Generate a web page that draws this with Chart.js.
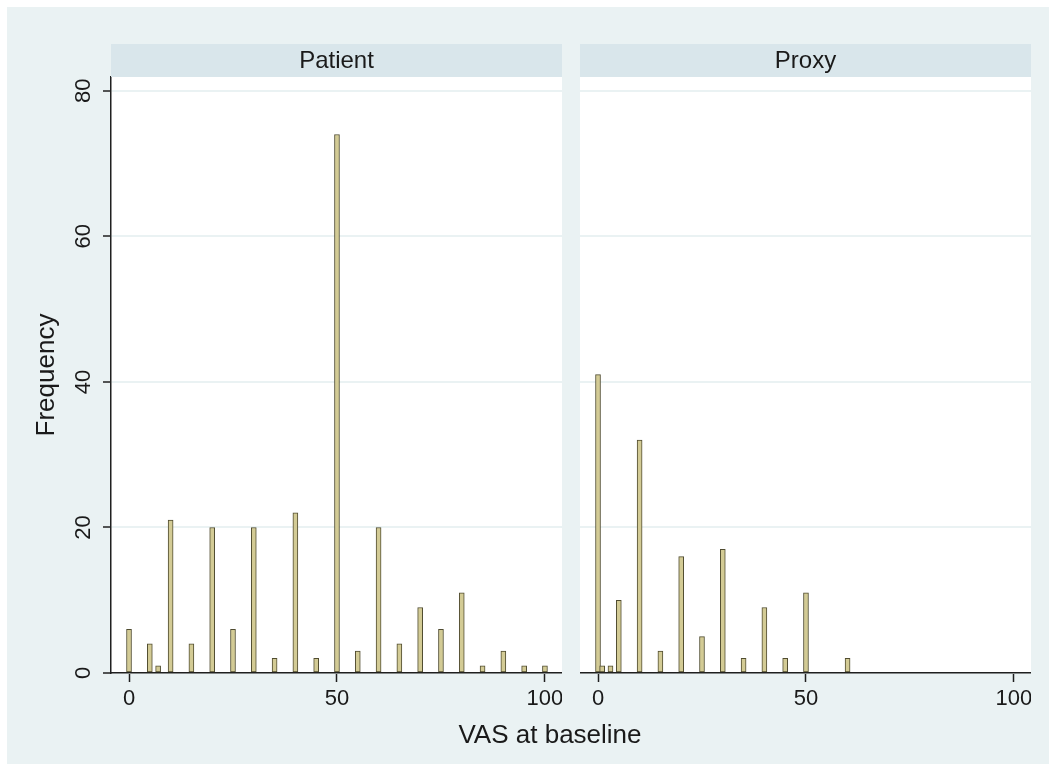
<!DOCTYPE html>
<html>
<head>
<meta charset="utf-8">
<title>VAS at baseline</title>
<script src="https://cdn.jsdelivr.net/npm/chart.js@4.4.1/dist/chart.umd.min.js"></script>
<style>
  html, body { margin: 0; padding: 0; background: #fff; }
  #frame {
    position: absolute; left: 7px; top: 7px; width: 1042px; height: 757px;
    background: #eaf2f3; font-family: 'Liberation Sans', Arial, sans-serif;
  }
  #frame canvas { position: absolute; top: 0; }
  #patientChart { left: 0; }
  #proxyChart { left: 573px; }
  #xTitle {
    position: absolute; left: 0; width: 1086px; top: 714px;
    text-align: center; font-size: 26px; line-height: 26px; color: #1a1a1a;
  }
</style>
</head>
<body>
<div id="frame">
  <canvas id="patientChart" width="555" height="720"></canvas>
  <canvas id="proxyChart" width="451" height="720"></canvas>
  <div id="xTitle">VAS at baseline</div>
</div>
<script>
// tick labels
const xTicks = [0, 50, 100];
const yTicks = [0, 20, 40, 60, 80];

// Patient panel: VAS score -> frequency
const patientScores = [0, 5, 7, 10, 15, 20, 25, 30, 35, 40, 45, 50, 55, 60, 65, 70, 75, 80, 85, 90, 95, 100];
const patientFreq   = [6, 4, 1, 21, 4, 20, 6, 20, 2, 22, 2, 74, 3, 20, 4, 9, 6, 11, 1, 3, 1, 1];

// Proxy panel
const proxyScores = [0, 1, 3, 5, 10, 15, 20, 25, 30, 35, 40, 45, 50, 60];
const proxyFreq   = [41, 1, 1, 10, 32, 3, 16, 5, 17, 2, 9, 2, 11, 2];

const TEXT = '#1a1a1a';
const AXIS = '#1f1f1f';
const BG = '#eaf2f3';
const STRIP = '#d9e6eb';
const FONT = "'Liberation Sans', Arial, sans-serif";

// white plot region, then the grey strip with the panel name above it
const panelPlugin = {
  id: 'panel',
  beforeDraw(chart) {
    const { ctx, chartArea: a } = chart;
    ctx.save();
    ctx.fillStyle = '#ffffff';
    ctx.fillRect(a.left, a.top, a.right - a.left, a.bottom - a.top);
    ctx.restore();
  },
  afterDraw(chart, args, opts) {
    const { ctx, chartArea: a } = chart;
    ctx.save();
    ctx.fillStyle = STRIP;
    ctx.fillRect(a.left, a.top - 33, a.right - a.left, 33);
    ctx.fillStyle = TEXT;
    ctx.font = `24px ${FONT}`;
    ctx.textAlign = 'center';
    ctx.textBaseline = 'middle';
    ctx.fillText(opts.text, (a.left + a.right) / 2, a.top - 16);
    ctx.restore();
  }
};

function makePanel(id, scores, freq, label, withYAxis) {
  const el = document.getElementById(id);
  if (!el) return null;
  return new Chart(el, {
    type: 'bar',
    data: {
      datasets: [{
        data: scores.map((s, i) => ({ x: s, y: freq[i] })),
        backgroundColor: '#d3cb95',
        borderColor: '#504c30',
        borderWidth: 1,
        borderSkipped: false,
        barThickness: 5
      }]
    },
    options: {
      responsive: false,
      animation: false,
      layout: { padding: { top: 70, left: 0, right: 0, bottom: 0 } },
      plugins: {
        legend: { display: false },
        tooltip: { enabled: false },
        panel: { text: label }
      },
      scales: {
        x: {
          type: 'linear',
          min: -4.33,
          max: 104.1,
          offset: false,
          afterBuildTicks: (s) => { s.ticks = xTicks.map((v) => ({ value: v })); },
          afterFit: (s) => { s.height = 54; s.paddingLeft = 0; s.paddingRight = 0; },
          grid: { offset: false, drawOnChartArea: false, tickLength: 9, tickColor: AXIS, tickWidth: 1.5 },
          border: { display: true, color: AXIS, width: 1.5 },
          ticks: { color: TEXT, font: { family: FONT, size: 22 }, padding: 4, maxRotation: 0, autoSkip: false }
        },
        y: {
          min: 0,
          max: 81.9,
          afterBuildTicks: (s) => { s.ticks = yTicks.map((v) => ({ value: v })); },
          afterFit: (s) => { s.width = withYAxis ? 104 : 0; s.paddingTop = 0; s.paddingBottom = 0; },
          grid: { color: BG, lineWidth: 2, drawTicks: withYAxis, tickLength: 8, tickColor: AXIS, tickWidth: 1.5 },
          border: { display: withYAxis, color: AXIS, width: 1.5 },
          ticks: {
            display: withYAxis, color: TEXT, font: { family: FONT, size: 22 },
            padding: 7, minRotation: 90, maxRotation: 90, crossAlign: 'center'
          },
          title: {
            display: withYAxis, text: 'Frequency', color: TEXT,
            font: { family: FONT, size: 26 }, padding: { top: 24, bottom: 0 }
          }
        }
      }
    },
    plugins: [panelPlugin]
  });
}

makePanel('patientChart', patientScores, patientFreq, 'Patient', true);
makePanel('proxyChart', proxyScores, proxyFreq, 'Proxy', false);
</script>
</body>
</html>
